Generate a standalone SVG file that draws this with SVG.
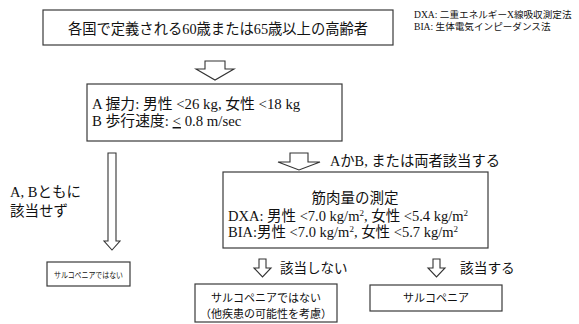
<svg xmlns="http://www.w3.org/2000/svg" width="579" height="324" viewBox="0 0 579 324">
<style>
.box{fill:#fff;stroke:#3a3a3a;stroke-width:1.2}
.arr{fill:#fff;stroke:#333;stroke-width:1.1;stroke-linejoin:miter}
.t{font-family:"Liberation Serif","Noto Sans CJK JP",serif;fill:#111}
.g{font-family:"Noto Sans CJK JP","Noto Sans",sans-serif;fill:#111}
</style>
<rect width="579" height="324" fill="#fff"/>
<g id="legend">
<text class="t" x="414" y="18" font-size="9.6">DXA: 二重エネルギーX線吸収測定法</text>
<text class="t" x="414" y="30" font-size="9.6">BIA: 生体電気インピーダンス法</text>
</g>
<g id="n-elderly">
<rect class="box" x="43" y="10" width="350" height="35"/>
<text class="t" x="218" y="34" font-size="14.3" text-anchor="middle">各国で定義される60歳または65歳以上の高齢者</text>
</g>
<g id="n-criteria">
<rect class="box" x="87" y="84" width="255" height="57"/>
<text class="t" x="92" y="109" font-size="14.8">A 握力:  男性 &lt;26 kg, 女性 &lt;18 kg</text>
<text class="t" x="92" y="126" font-size="14.8">B 歩行速度: <tspan text-decoration="underline">&lt;</tspan> 0.8 m/sec</text>
</g>
<g id="n-muscle">
<rect class="box" x="223" y="172" width="265" height="76"/>
<text class="t" x="355" y="203" font-size="14.5" text-anchor="middle">筋肉量の測定</text>
<text class="t" x="228" y="221" font-size="14.5">DXA: 男性 &lt;7.0 kg/m<tspan baseline-shift="super" font-size="9">2</tspan>, 女性 &lt;5.4 kg/m<tspan baseline-shift="super" font-size="9">2</tspan></text>
<text class="t" x="228" y="237" font-size="14.5">BIA:男性 &lt;7.0 kg/m<tspan baseline-shift="super" font-size="9">2</tspan>, 女性 &lt;5.7 kg/m<tspan baseline-shift="super" font-size="9">2</tspan></text>
</g>
<g id="n-not1">
<rect class="box" x="47" y="262" width="83" height="24"/>
<text class="g" x="54" y="277.5" font-size="8.2" textLength="69" lengthAdjust="spacingAndGlyphs">サルコペニアではない</text>
</g>
<g id="n-not2">
<rect class="box" x="195" y="284" width="142" height="38"/>
<text class="g" x="266" y="302" font-size="11" text-anchor="middle">サルコペニアではない</text>
<text class="g" x="266" y="318" font-size="11" text-anchor="middle">（他疾患の可能性を考慮）</text>
</g>
<g id="n-sarco">
<rect class="box" x="370" y="285" width="132" height="26"/>
<text class="g" x="436" y="302" font-size="11" text-anchor="middle">サルコペニア</text>
</g>
<g id="connectors">
<polygon class="arr" points="205,61 225,61 225,69 234,69 215,80 196,69 205,69"/>
<polygon class="arr" points="108,153 116,153 116,241 120,241 112,250 104,241 108,241"/>
<polygon class="arr" points="290,153 308,153 308,162 320,162 299,170 278,162 290,162"/>
<polygon class="arr" points="259,259 266,259 266,268 271,268 262.5,277 254,268 259,268"/>
<polygon class="arr" points="433,259 440,259 440,268 445,268 436.5,277 428,268 433,268"/>
</g>
<g id="labels">
<text class="t" x="10" y="197" font-size="14.5">A, Bともに</text>
<text class="t" x="10" y="216" font-size="14.5">該当せず</text>
<text class="t" x="330" y="166" font-size="14.3">AかB, または両者該当する</text>
<text class="g" x="280" y="273" font-size="13.5">該当しない</text>
<text class="g" x="460" y="273" font-size="13.7">該当する</text>
</g>
</svg>
